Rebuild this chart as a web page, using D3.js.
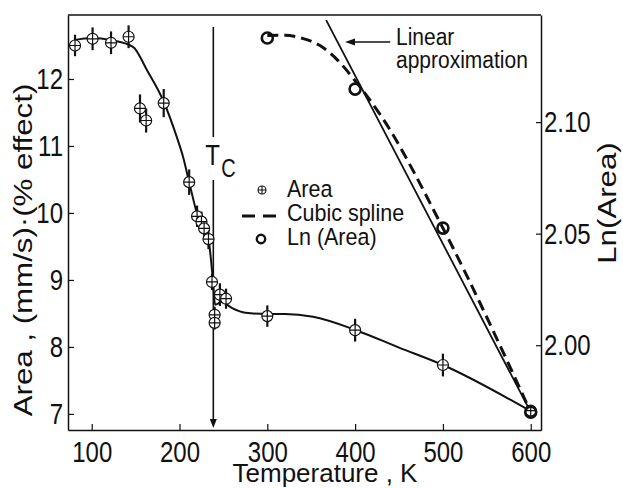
<!DOCTYPE html>
<html>
<head>
<meta charset="utf-8">
<script src="https://cdn.jsdelivr.net/npm/d3@7"></script>
<style>
body { margin: 0; background: #fff; }
text { font-family: "Liberation Sans", Arial, sans-serif; fill: #111; }
</style>
</head>
<body>
<div id="chart"></div>
<script>
// Area points (temperature K, area, error)
var areaT = [81, 101, 122, 142, 155, 162, 182, 211, 220, 225, 228, 233, 237, 240, 240, 246, 253, 300, 400, 500, 600];
var areaV = [12.50, 12.60, 12.54, 12.63, 11.56, 11.38, 11.64, 10.46, 9.95, 9.87, 9.77, 9.61, 8.97, 8.48, 8.36, 8.78, 8.72, 8.46, 8.25, 7.73, 7.05];
var areaErr = [0.16, 0.17, 0.17, 0.17, 0.21, 0.18, 0.21, 0.19, 0.16, 0.15, 0.15, 0.15, 0.12, 0.12, 0.1, 0.17, 0.15, 0.16, 0.17, 0.17, 0.08];

// smooth curve through the area data
var curveT = [80, 100, 122, 147, 163, 181, 198, 204, 211, 221, 233, 238, 240.5, 248, 260, 275, 300, 320, 352, 401, 450, 500, 600];
var curveA = [12.58, 12.61, 12.58, 12.48, 12.13, 11.69, 11.09, 10.84, 10.46, 9.94, 9.60, 9.0, 8.63, 8.67, 8.58, 8.51, 8.49, 8.49, 8.45, 8.25, 7.99, 7.73, 7.04];

// Ln(Area) points and cubic spline
var lnT = [300, 400, 500, 600];
var lnV = [2.1377, 2.1148, 2.0525, 1.970];
var splineT = [300, 320, 340, 360, 380, 400, 430, 500, 600];
var splineV = [2.1388, 2.1389, 2.1375, 2.1343, 2.1278, 2.1185, 2.1025, 2.0525, 1.970];

// linear approximation
var linT = [367, 600];
var linV = [2.1457, 1.970];

var tc = 238.5;

var xTicks = [100, 200, 300, 400, 500, 600];
var yTicks = [7, 8, 9, 10, 11, 12];
var lnTicks = [2.00, 2.05, 2.10];

var svgWidth = 623;
var svgHeight = 488;
var margin = {top: 15, right: 82, bottom: 58, left: 68};
var width = svgWidth - margin.left - margin.right;
var height = svgHeight - margin.top - margin.bottom;
var SY = 1.25; // glyphs in the figure are stretched vertically

var svg = d3.select("#chart").append("svg")
    .attr("width", svgWidth)
    .attr("height", svgHeight);

var chartGroup = svg.append("g")
    .attr("transform", `translate(${margin.left}, ${margin.top})`);

var xScale = d3.scaleLinear().domain([73, 611.7]).range([0, width]);
var yScale = d3.scaleLinear().domain([6.76, 12.955]).range([height, 0]);
var lnScale = d3.scaleLinear().domain([1.962, 2.148]).range([height, 0]);

function stretch(sel, rot, s) {
    s = s || SY;
    sel.each(function() {
        var t = d3.select(this);
        var x = +t.attr("x") || 0, y = +t.attr("y") || 0;
        t.attr("x", null).attr("y", null)
            .attr("transform", `translate(${x},${y})` + (rot ? ` rotate(-90) scale(${s},1)` : ` scale(1,${s})`));
    });
}

// axes
var bottomAxis = d3.axisBottom(xScale).tickValues(xTicks).tickSizeInner(-6).tickSizeOuter(0).tickPadding(11);
var leftAxis = d3.axisLeft(yScale).tickValues(yTicks).tickFormat(d3.format("d")).tickSizeInner(-6).tickSizeOuter(0).tickPadding(5);
var rightAxis = d3.axisRight(lnScale).tickValues(lnTicks).tickFormat(d3.format(".2f")).tickSizeInner(-5).tickSizeOuter(0).tickPadding(3);

var gx = chartGroup.append("g").attr("transform", `translate(0, ${height})`).call(bottomAxis);
var gy = chartGroup.append("g").call(leftAxis);
var gr = chartGroup.append("g").attr("transform", `translate(${width}, 0)`).call(rightAxis);

[gx, gy, gr].forEach(g => {
    g.select(".domain").attr("stroke", "#111").attr("stroke-width", 1.5);
    g.selectAll(".tick line").attr("stroke", "#111").attr("stroke-width", 1.2);
    g.selectAll("text").attr("font-size", 24).attr("font-family", "Liberation Sans, Arial, sans-serif").attr("fill", "#111");
    stretch(g.selectAll("text"), false);
});

chartGroup.append("line")
    .attr("x1", 0).attr("x2", width).attr("y1", 0).attr("y2", 0)
    .attr("stroke", "#111").attr("stroke-width", 1.5);

// axis titles
var xTitle = svg.append("text")
    .attr("x", 325)
    .attr("y", 482)
    .attr("text-anchor", "middle")
    .attr("font-size", 26)
    .text("Temperature , K");
stretch(xTitle, false, 1.02);

var yTitle = svg.append("text")
    .attr("x", 32)
    .attr("y", 250)
    .attr("text-anchor", "middle")
    .attr("font-size", 25)
    .text("Area , (mm/s)\u00b7(% effect)");
stretch(yTitle, true);

var rTitle = svg.append("text")
    .attr("x", 616)
    .attr("y", 203)
    .attr("text-anchor", "middle")
    .attr("font-size", 25)
    .text("Ln(Area)");
stretch(rTitle, true);

// area curve
var areaLine = d3.line()
    .x(d => xScale(d[0]))
    .y(d => yScale(d[1]))
    .curve(d3.curveMonotoneX);
chartGroup.append("path")
    .datum(curveT.map((t, i) => [t, curveA[i]]))
    .attr("d", areaLine)
    .attr("fill", "none")
    .attr("stroke", "#111")
    .attr("stroke-width", 2);

// ln spline and linear approximation
var lnLine = d3.line()
    .x(d => xScale(d[0]))
    .y(d => lnScale(d[1]))
    .curve(d3.curveMonotoneX);
chartGroup.append("path")
    .datum(linT.map((t, i) => [t, linV[i]]))
    .attr("d", lnLine)
    .attr("fill", "none")
    .attr("stroke", "#111")
    .attr("stroke-width", 1.8);
chartGroup.append("path")
    .datum(splineT.map((t, i) => [t, splineV[i]]))
    .attr("d", lnLine)
    .attr("fill", "none")
    .attr("stroke", "#111")
    .attr("stroke-width", 3)
    .attr("stroke-dasharray", "11,6");

// Tc marker
var tcX = xScale(tc);
chartGroup.append("line")
    .attr("x1", tcX).attr("x2", tcX).attr("y1", 12).attr("y2", 122)
    .attr("stroke", "#111").attr("stroke-width", 1.6);
chartGroup.append("line")
    .attr("x1", tcX).attr("x2", tcX).attr("y1", 165).attr("y2", height - 8)
    .attr("stroke", "#111").attr("stroke-width", 1.6);
chartGroup.append("path")
    .attr("d", `M${tcX - 3.5},${height - 11} L${tcX + 3.5},${height - 11} L${tcX},${height - 2} Z`)
    .attr("fill", "#111");
var tcT = chartGroup.append("text")
    .attr("x", tcX - 8).attr("y", 150)
    .attr("font-size", 24)
    .text("T");
stretch(tcT, false);
var tcC = chartGroup.append("text")
    .attr("x", tcX + 8).attr("y", 162)
    .attr("font-size", 20)
    .text("C");
stretch(tcC, false);

// error bars and markers
var pts = areaT.map((t, i) => ({t: t, v: areaV[i], e: areaErr[i]}));
chartGroup.selectAll(".err")
    .data(pts)
    .enter()
    .append("line")
    .attr("class", "err")
    .attr("x1", d => xScale(d.t)).attr("x2", d => xScale(d.t))
    .attr("y1", d => yScale(d.v - d.e)).attr("y2", d => yScale(d.v + d.e))
    .attr("stroke", "#111").attr("stroke-width", 2.2);

var r = 5.5;
var marks = chartGroup.selectAll(".mark")
    .data(pts)
    .enter()
    .append("g")
    .attr("class", "mark")
    .attr("transform", d => `translate(${xScale(d.t)}, ${yScale(d.v)})`);
marks.append("circle").attr("r", r).attr("fill", "#fff").attr("stroke", "#111").attr("stroke-width", 1.2);
marks.append("path").attr("d", `M${-r},0H${r}M0,${-r}V${r}`).attr("stroke", "#111").attr("stroke-width", 1.2);

chartGroup.selectAll(".ln")
    .data(lnT.map((t, i) => [t, lnV[i]]))
    .enter()
    .append("circle")
    .attr("class", "ln")
    .attr("cx", d => xScale(d[0]))
    .attr("cy", d => lnScale(d[1]))
    .attr("r", 5.5)
    .attr("fill", "none")
    .attr("stroke", "#111")
    .attr("stroke-width", 2.6);

// linear approximation label
var annY = lnScale(2.1359);
chartGroup.append("line")
    .attr("x1", xScale(388.5) + 6).attr("x2", xScale(440))
    .attr("y1", annY).attr("y2", annY)
    .attr("stroke", "#111").attr("stroke-width", 1.6);
chartGroup.append("path")
    .attr("d", `M${xScale(388.5)},${annY} L${xScale(388.5) + 10},${annY - 3.5} L${xScale(388.5) + 10},${annY + 3.5} Z`)
    .attr("fill", "#111");
var ann1 = svg.append("text").attr("x", 396).attr("y", 45).attr("font-size", 21).text("Linear");
var ann2 = svg.append("text").attr("x", 396).attr("y", 68).attr("font-size", 21).text("approximation");
stretch(ann1, false, 1.1);
stretch(ann2, false, 1.1);

// legend
var legend = svg.append("g");
var lr = 4;
legend.append("circle").attr("cx", 262).attr("cy", 190).attr("r", lr).attr("fill", "#fff").attr("stroke", "#111").attr("stroke-width", 1.1);
legend.append("path").attr("d", `M${262 - lr},190H${262 + lr}M262,${190 - lr}V${190 + lr}`).attr("stroke", "#111").attr("stroke-width", 1.1);
legend.append("line").attr("x1", 242).attr("x2", 276).attr("y1", 216).attr("y2", 216)
    .attr("stroke", "#111").attr("stroke-width", 3).attr("stroke-dasharray", "13,8");
legend.append("circle").attr("cx", 261).attr("cy", 239).attr("r", 4.2).attr("fill", "none").attr("stroke", "#111").attr("stroke-width", 2.4);
var legendLabels = ["Area", "Cubic spline", "Ln (Area)"];
legendLabels.forEach((s, i) => {
    var t = legend.append("text").attr("x", 287).attr("y", 197 + i * 24).attr("font-size", 21.5).text(s);
    stretch(t, false, 1.1);
});
</script>
</body>
</html>
